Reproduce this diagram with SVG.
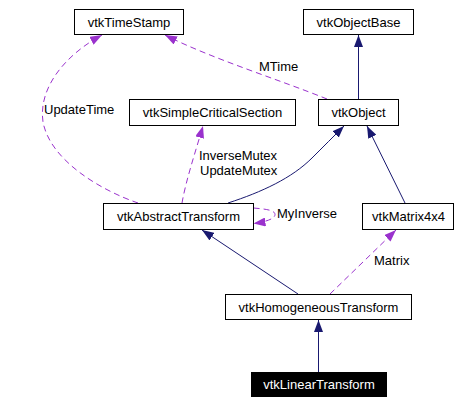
<svg xmlns="http://www.w3.org/2000/svg" width="468" height="404" viewBox="0 0 468 404">
<style>
.box{fill:#ffffff;stroke:#000000;stroke-width:1}
.lbl{font-family:"Liberation Sans",Arial,Helvetica,sans-serif;font-size:13px;fill:#000000}
.c{text-anchor:middle}
.inh{fill:none;stroke:#191970;stroke-width:1}
.use{fill:none;stroke:#9a32cd;stroke-width:1;stroke-dasharray:6,4}
</style>
<defs>
<marker id="aN" markerUnits="userSpaceOnUse" markerWidth="12" markerHeight="9" refX="12" refY="4.5" orient="auto">
<path d="M0,0 L12,4.5 L0,9 z" fill="#191970"/>
</marker>
<marker id="aP" markerUnits="userSpaceOnUse" markerWidth="12" markerHeight="9" refX="12" refY="4.5" orient="auto">
<path d="M0,0 L12,4.5 L0,9 z" fill="#9a32cd"/>
</marker>
</defs>
<rect width="468" height="404" fill="#ffffff"/>
<g id="connectors">
<path class="inh" d="M358.5,99 L358.5,35" marker-end="url(#aN)"/>
<path class="inh" d="M228,203 C262,192 292,178 312,158 C322,148 335,135 344,126" marker-end="url(#aN)"/>
<path class="inh" d="M405,203 L367,126" marker-end="url(#aN)"/>
<path class="inh" d="M298,294 L202,230" marker-end="url(#aN)"/>
<path class="inh" d="M318.5,372 L318.5,320" marker-end="url(#aN)"/>
<path class="use" d="M138,203 C100,190 50,160 43,122 C38,88 65,55 102,35" marker-end="url(#aP)"/>
<path class="use" d="M327,99 C280,80 210,58 165,35" marker-end="url(#aP)"/>
<path class="use" d="M182,203 C186,180 196,150 203,126" marker-end="url(#aP)"/>
<path class="use" d="M253.5,208 C265,209 275,210 275,214.5 C275,219 265,222 253.5,223.5" marker-end="url(#aP)"/>
<path class="use" d="M330,294 L396,230" marker-end="url(#aP)"/>
<text class="lbl" x="44" y="114">UpdateTime</text>
<text class="lbl" x="259" y="70.5">MTime</text>
<text class="lbl" x="199" y="160">InverseMutex</text>
<text class="lbl" x="200" y="175">UpdateMutex</text>
<text class="lbl" x="277" y="218">MyInverse</text>
<text class="lbl" x="374" y="265">Matrix</text>
</g>
<g id="vtkTimeStamp">
<rect class="box" x="74.5" y="9.5" width="109" height="25"/>
<text class="lbl c" x="129" y="26.5">vtkTimeStamp</text>
</g>
<g id="vtkObjectBase">
<rect class="box" x="303.5" y="9.5" width="110" height="25"/>
<text class="lbl c" x="358.5" y="26.5">vtkObjectBase</text>
</g>
<g id="vtkSimpleCriticalSection">
<rect class="box" x="129.5" y="99.5" width="166" height="26"/>
<text class="lbl c" x="212.5" y="117.3">vtkSimpleCriticalSection</text>
</g>
<g id="vtkObject">
<rect class="box" x="318.5" y="99.5" width="80" height="26"/>
<text class="lbl c" x="358.5" y="117.3">vtkObject</text>
</g>
<g id="vtkAbstractTransform">
<rect class="box" x="103.5" y="203.5" width="150" height="26"/>
<text class="lbl c" x="178.5" y="221.3">vtkAbstractTransform</text>
</g>
<g id="vtkMatrix4x4">
<rect class="box" x="362.5" y="203.5" width="91" height="26"/>
<text class="lbl c" x="408.5" y="221.3">vtkMatrix4x4</text>
</g>
<g id="vtkHomogeneousTransform">
<rect class="box" x="225.5" y="294.5" width="186" height="25"/>
<text class="lbl c" x="318.5" y="311.5">vtkHomogeneousTransform</text>
</g>
<g id="vtkLinearTransform">
<rect x="251" y="372" width="136" height="25" fill="#000000"/>
<text class="lbl c" x="319" y="389" style="fill:#ffffff">vtkLinearTransform</text>
</g>
</svg>
